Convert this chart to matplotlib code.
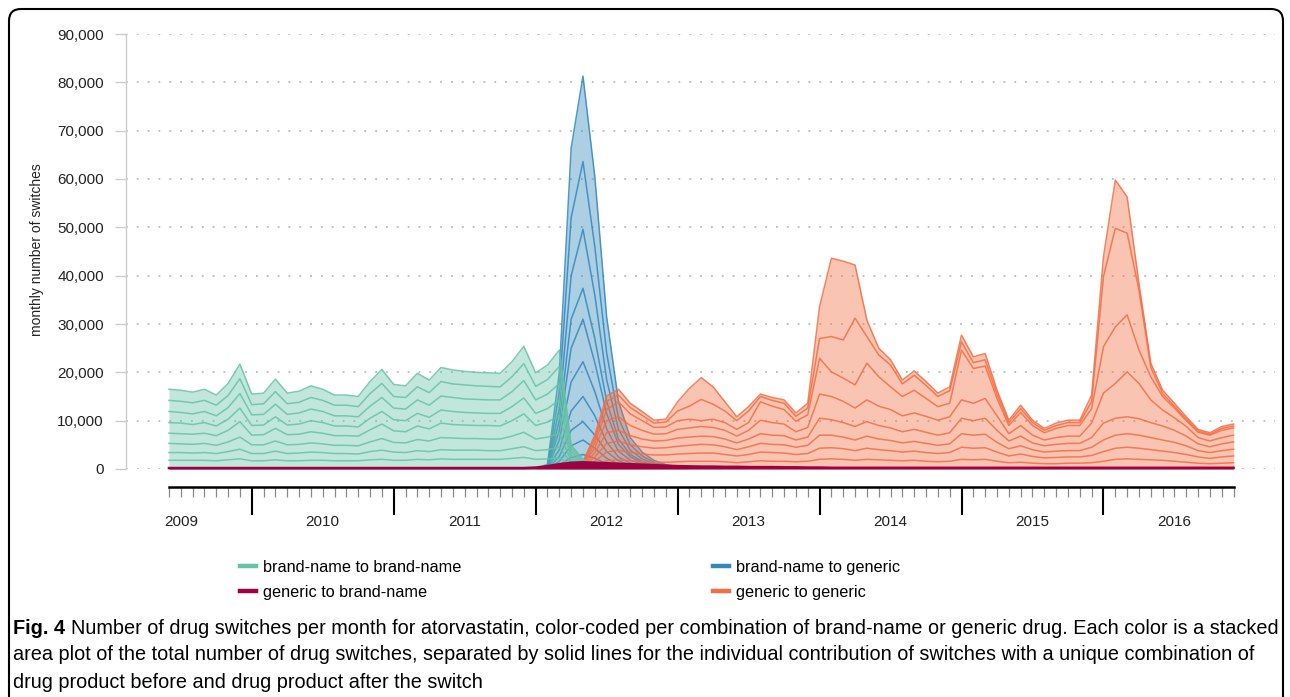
import matplotlib
matplotlib.use('Agg')
import matplotlib.pyplot as plt
import matplotlib.patches as mpatches
import matplotlib.transforms as mtransforms
from matplotlib.lines import Line2D
from matplotlib.ticker import FixedLocator, FuncFormatter
import numpy as np
import pandas as pd

plt.rcParams['font.family'] = ['Liberation Sans', 'DejaVu Sans']

# time axis: Jun 2009 .. Dec 2016, year labels
axis_start, axis_end = '2009-06', '2016-12'
years = [2009, 2010, 2011, 2012, 2013, 2014, 2015, 2016]

# all values in thousands of switches; each group is a list of boundary lines (top line first)
# brand-name to brand-name, from Jun 2009
bb_start = '2009-06'
bb_lines = [
    [16.5, 16.3, 15.9, 16.5, 15.3, 17.7, 21.7, 15.5, 15.7, 18.6, 15.7, 16.1, 17.2, 16.5, 15.3, 15.3, 15.0, 18.1, 20.6, 17.5,
     17.2, 19.8, 18.4, 21.0, 20.5, 20.2, 20.0, 19.9, 19.8, 22.2, 25.4, 19.9, 21.5, 24.6, 5.0, 2.0, 0.8, 0],
    [14.2, 14.0, 13.7, 14.2, 13.2, 15.2, 18.7, 13.3, 13.5, 16.0, 13.5, 13.8, 14.8, 14.2, 13.2, 13.2, 12.9, 15.6, 17.7, 15.0,
     14.8, 17.0, 15.8, 18.1, 17.6, 17.4, 17.2, 17.1, 17.0, 19.1, 21.8, 17.1, 18.5, 21.2, 4.3, 1.7, 0.7, 0],
    [11.9, 11.7, 11.4, 11.9, 11.0, 12.7, 15.6, 11.2, 11.3, 13.4, 11.3, 11.6, 12.4, 11.9, 11.0, 11.0, 10.8, 13.0, 14.8, 12.6,
     12.4, 14.3, 13.2, 15.1, 14.8, 14.5, 14.4, 14.3, 14.3, 16.0, 18.3, 14.3, 15.5, 17.7, 3.6, 1.4, 0.6, 0],
    [9.6, 9.5, 9.2, 9.6, 8.9, 10.3, 12.6, 9.0, 9.1, 10.8, 9.1, 9.3, 10.0, 9.6, 8.9, 8.9, 8.7, 10.5, 11.9, 10.2,
     10.0, 11.5, 10.7, 12.2, 11.9, 11.7, 11.6, 11.5, 11.5, 12.9, 14.7, 11.5, 12.5, 14.3, 2.9, 1.2, 0.5, 0],
    [7.4, 7.3, 7.2, 7.4, 6.9, 8.0, 9.8, 7.0, 7.1, 8.4, 7.1, 7.2, 7.7, 7.4, 6.9, 6.9, 6.8, 8.1, 9.3, 7.9,
     7.7, 8.9, 8.3, 9.5, 9.2, 9.1, 9.0, 9.0, 8.9, 10.0, 11.4, 9.0, 9.7, 11.1, 2.3, 0.9, 0.4, 0],
    [5.3, 5.2, 5.1, 5.3, 4.9, 5.6, 6.6, 5.0, 5.0, 5.8, 5.0, 5.1, 5.4, 5.2, 4.9, 4.9, 4.8, 5.6, 6.3, 5.5,
     5.4, 6.1, 5.8, 6.5, 6.4, 6.3, 6.3, 6.2, 6.2, 6.8, 7.6, 6.2, 6.6, 7.4, 1.7, 0.7, 0.3, 0],
    [3.4, 3.4, 3.3, 3.4, 3.2, 3.6, 4.1, 3.2, 3.2, 3.7, 3.2, 3.3, 3.5, 3.4, 3.2, 3.2, 3.1, 3.6, 3.9, 3.5,
     3.4, 3.8, 3.6, 4.0, 3.9, 3.9, 3.9, 3.8, 3.8, 4.2, 4.6, 3.8, 4.0, 4.5, 1.2, 0.5, 0.2, 0],
    [1.8, 1.8, 1.8, 1.8, 1.7, 1.9, 2.1, 1.7, 1.7, 1.9, 1.7, 1.7, 1.8, 1.8, 1.7, 1.7, 1.7, 1.9, 2.0, 1.8,
     1.8, 2.0, 1.9, 2.1, 2.0, 2.0, 2.0, 2.0, 2.0, 2.2, 2.4, 2.0, 2.1, 2.3, 0.7, 0.3, 0.1, 0],
]

# brand-name to generic, from Jan 2012
bg_start = '2012-01'
bg_lines = [
    [0, 1.0, 20, 66.4, 81.3, 60.5, 31.5, 14, 6.5, 3.5, 1.8, 0.9, 0.4, 0],
    [0, 0.8, 16, 52, 63.6, 46, 24, 10.5, 5, 2.7, 1.4, 0.7, 0.3, 0],
    [0, 0.6, 12.5, 40, 49.6, 36, 18.5, 8.2, 3.9, 2.1, 1.1, 0.5, 0.2, 0],
    [0, 0.5, 10, 31, 37.4, 27, 14, 6.2, 3, 1.6, 0.8, 0.4, 0.2, 0],
    [0, 0.4, 8, 25, 31, 22, 11.5, 5.1, 2.5, 1.3, 0.7, 0.3, 0.1, 0],
    [0, 0.3, 6, 18, 22.2, 16, 8.3, 3.7, 1.8, 1.0, 0.5, 0.2, 0.1, 0],
    [0, 0.2, 4, 12, 15, 11, 5.6, 2.5, 1.2, 0.7, 0.3, 0.2, 0.1, 0],
    [0, 0.1, 2.6, 8, 9.8, 7, 3.6, 1.7, 0.8, 0.4, 0.2, 0.1, 0, 0],
    [0, 0.1, 1.6, 4.8, 6, 4.3, 2.2, 1.0, 0.5, 0.3, 0.1, 0.1, 0, 0],
    [0, 0, 0.8, 2.4, 3, 2.2, 1.1, 0.5, 0.3, 0.1, 0.1, 0, 0, 0],
]

# generic to generic, from Mar 2012
gg_start = '2012-03'
gg_lines = [
    [0, 0.5, 1.5, 7, 15.1, 16.5, 13.6, 11.9, 10.1, 10.3, 13.9, 16.7, 18.9, 17.0, 13.9, 10.8, 12.9, 15.5, 14.8, 14.3, 11.6, 13.6,
     33.6, 43.6, 43.0, 42.2, 30.8, 25.0, 22.6, 18.4, 20.3, 18.1, 15.7, 17.0,
     27.7, 23.2, 23.9, 16.3, 10.1, 13.2, 10.1, 8.4, 9.5, 10.1, 10.1, 15.3,
     43.9, 59.8, 56.3, 38.4, 21.9, 16.3, 13.6, 10.8, 8.2, 7.5, 8.8, 9.3],
    [0, 0.4, 1.3, 6.3, 14.0, 15.3, 12.7, 11.1, 9.5, 9.7, 12.0, 13.0, 14.4, 13.4, 12.0, 10.0, 12.0, 15.0, 14.2, 13.6, 10.9, 12.6,
     27.0, 27.4, 26.7, 31.2, 27.4, 23.6, 21.5, 17.6, 19.4, 17.3, 15.0, 16.2,
     26.3, 22.0, 22.6, 15.5, 9.6, 12.5, 9.6, 8.0, 9.0, 9.6, 9.6, 14.0,
     39.8, 49.8, 48.8, 37.0, 21.0, 15.6, 13.0, 10.3, 7.9, 7.2, 8.4, 8.9],
    [0, 0.3, 1.1, 5.4, 12.3, 13.9, 11.4, 10.0, 8.6, 8.7, 10.0, 10.3, 10.0, 10.3, 9.6, 8.2, 9.6, 13.9, 13.0, 12.3, 9.9, 11.2,
     22.9, 20.1, 18.8, 17.4, 21.9, 19.1, 17.0, 15.0, 16.3, 14.6, 12.9, 13.6,
     24.6, 20.8, 21.3, 14.6, 9.0, 11.7, 9.0, 7.5, 8.4, 9.0, 9.0, 12.5,
     25.3, 29.4, 31.9, 24.6, 19.1, 15.0, 12.6, 10.0, 7.6, 7.0, 8.0, 8.5],
    [0, 0.25, 0.9, 4.4, 10.0, 10.8, 9.0, 8.0, 7.2, 7.3, 8.2, 8.5, 8.8, 8.6, 8.0, 6.8, 8.0, 10.1, 9.6, 9.3, 7.7, 8.6,
     15.5, 15.0, 14.0, 12.6, 14.3, 13.0, 12.3, 11.0, 11.6, 10.9, 10.1, 10.8,
     14.3, 13.6, 14.6, 11.0, 7.3, 9.0, 7.0, 6.0, 6.5, 6.8, 6.8, 9.5,
     15.7, 17.7, 20.1, 17.7, 14.3, 12.2, 10.6, 8.8, 6.5, 5.8, 6.5, 7.0],
    [0, 0.2, 0.7, 3.4, 7.5, 8.0, 6.9, 6.2, 5.8, 5.9, 6.4, 6.6, 6.8, 6.7, 6.2, 5.4, 6.2, 7.3, 7.0, 6.9, 6.0, 6.6,
     10.5, 10.2, 9.6, 8.8, 9.8, 9.0, 8.5, 7.7, 8.2, 7.6, 7.0, 7.5,
     10.5, 10.0, 10.5, 8.0, 5.8, 6.8, 5.4, 4.8, 5.1, 5.3, 5.3, 6.5,
     9.5, 10.5, 10.8, 10.4, 9.6, 8.9, 8.0, 6.8, 5.2, 4.6, 5.2, 5.6],
    [0, 0.15, 0.5, 2.5, 5.3, 5.8, 5.0, 4.6, 4.3, 4.4, 4.7, 4.9, 5.1, 5.0, 4.6, 4.0, 4.6, 5.3, 5.1, 5.0, 4.5, 4.9,
     7.0, 7.0, 6.6, 6.0, 6.8, 6.2, 5.9, 5.4, 5.7, 5.3, 4.9, 5.2,
     7.3, 7.0, 7.2, 5.5, 4.2, 4.8, 4.0, 3.5, 3.7, 3.8, 3.8, 4.5,
     6.0, 7.0, 7.3, 7.0, 6.5, 6.0, 5.5, 4.8, 3.8, 3.4, 3.8, 4.1],
    [0, 0.1, 0.3, 1.6, 3.5, 3.9, 3.4, 3.1, 2.9, 2.9, 3.1, 3.2, 3.3, 3.3, 3.0, 2.7, 3.0, 3.5, 3.4, 3.3, 3.0, 3.2,
     4.3, 4.4, 4.2, 3.8, 4.3, 4.0, 3.8, 3.5, 3.7, 3.4, 3.2, 3.4,
     4.5, 4.3, 4.4, 3.5, 2.7, 3.1, 2.6, 2.3, 2.4, 2.5, 2.5, 2.8,
     3.6, 4.3, 4.5, 4.3, 4.0, 3.7, 3.4, 3.0, 2.5, 2.2, 2.5, 2.7],
    [0, 0.05, 0.15, 0.8, 1.7, 1.9, 1.7, 1.5, 1.4, 1.4, 1.5, 1.6, 1.6, 1.6, 1.5, 1.3, 1.5, 1.7, 1.6, 1.6, 1.5, 1.6,
     2.0, 2.1, 2.0, 1.8, 2.0, 1.9, 1.8, 1.7, 1.8, 1.6, 1.5, 1.6,
     2.0, 1.9, 2.0, 1.6, 1.3, 1.4, 1.2, 1.1, 1.1, 1.2, 1.2, 1.3,
     1.6, 2.0, 2.1, 2.0, 1.9, 1.8, 1.6, 1.4, 1.2, 1.1, 1.2, 1.3],
]

# generic to brand-name, from Jun 2009
gb_start = '2009-06'
gb_vals = [0.2, 0.2, 0.2, 0.2, 0.2, 0.2, 0.2, 0.2, 0.2, 0.2,
           0.2, 0.2, 0.2, 0.2, 0.2, 0.2, 0.2, 0.2, 0.2, 0.2,
           0.2, 0.2, 0.2, 0.2, 0.2, 0.2, 0.2, 0.2, 0.2, 0.2, 0.2,
           0.3, 0.6, 1.0, 1.3, 1.4, 1.3, 1.2, 1.1, 1.0, 0.9, 0.8, 0.7, 0.6,
           0.55, 0.5, 0.5, 0.45, 0.45, 0.4, 0.4, 0.4, 0.35, 0.35, 0.3, 0.3,
           0.25, 0.25, 0.25, 0.25, 0.25, 0.25, 0.25, 0.25, 0.25, 0.25,
           0.25, 0.25, 0.25, 0.25, 0.25, 0.25, 0.25, 0.25, 0.25, 0.25,
           0.25, 0.25, 0.25, 0.25, 0.25, 0.25, 0.25, 0.25, 0.25, 0.25,
           0.25, 0.25, 0.25, 0.25, 0.25]

group_names = ['brand-name to brand-name', 'brand-name to generic',
               'generic to brand-name', 'generic to generic']
group_colors = ['#66c2a5', '#3288bd', '#9e0142', '#f46d43']

cap_bold = 'Fig. 4'
cap_lines = [
    'Number of drug switches per month for atorvastatin, color-coded per combination of brand-name or generic drug. Each color is a stacked',
    'area plot of the total number of drug switches, separated by solid lines for the individual contribution of switches with a unique combination of',
    'drug product before and drug product after the switch',
]


def month_index(start, n):
    p = pd.period_range(start, periods=n, freq='M')
    return np.asarray((p.year - 2009) * 12 + p.month - 1)


W, H = 1290, 697
fig = plt.figure(figsize=(W / 100, H / 100), dpi=100)
ax = fig.add_axes([126 / W, 1 - 469 / H, (1275 - 126) / W, (469 - 34) / H])


def draw_group(start, lines, color, z):
    x = month_index(start, len(lines[0]))
    ax.fill_between(x, 0, np.array(lines[0]) * 1000, color=color, alpha=0.4, lw=0, zorder=z)
    for ln in lines:
        ax.plot(x, np.array(ln) * 1000, color=color, lw=1.1, alpha=0.85, zorder=z + 0.5)


draw_group(bg_start, bg_lines, group_colors[1], 2)
draw_group(gg_start, gg_lines, group_colors[3], 3)
draw_group(bb_start, bb_lines, group_colors[0], 4)

xr = month_index(gb_start, len(gb_vals))
ax.fill_between(xr, 0, np.array(gb_vals) * 1000, color=group_colors[2], lw=0, zorder=6, clip_on=False)
ax.plot(xr, np.array(gb_vals) * 1000, color=group_colors[2], lw=1.8, zorder=6.5, clip_on=False)

# axes
x0 = month_index(axis_start, 1)[0]
n_months = len(pd.period_range(axis_start, axis_end, freq='M'))
x1 = month_index(axis_start, n_months)[-1]
ax.set_xlim(x0 - 3.63, x1 + 3.5)
ax.set_ylim(0, 90000)

ax.yaxis.set_major_locator(FixedLocator(np.arange(0, 90001, 10000)))
ax.yaxis.set_major_formatter(FuncFormatter(lambda v, p: f'{int(v):,}'))
ax.yaxis.grid(True, linestyle=(0, (1, 5)), color='#bbbbbb', lw=1.3)
ax.set_axisbelow(True)
ax.tick_params(axis='y', length=8, width=1, color='#cccccc', labelsize=11, labelcolor='#222222', pad=8)

for s in ['top', 'right']:
    ax.spines[s].set_visible(False)
ax.spines['left'].set_color('#cccccc')
ax.spines['left'].set_linewidth(1)

ax.spines['bottom'].set_position(('outward', 13))
ax.spines['bottom'].set_bounds(x0, x1)
ax.spines['bottom'].set_linewidth(1.8)
ax.xaxis.set_major_locator(FixedLocator(month_index(f'{years[1]}-01', 12 * (len(years) - 2) + 1)[::12]))
ax.xaxis.set_minor_locator(FixedLocator(month_index(axis_start, n_months)))
ax.tick_params(axis='x', which='major', length=20, width=1.5, color='black', labelbottom=False)
ax.tick_params(axis='x', which='minor', length=7.2, width=0.9, color='#888888')

trans = mtransforms.blended_transform_factory(ax.transData, ax.transAxes)
for y in years:
    ax.text(month_index(f'{y}-07', 1)[0], -0.122, str(y), transform=trans,
            ha='center', va='center', fontsize=11, color='#222222')

fig.text(37 / W, 1 - 250 / H, 'monthly number of switches', rotation=90,
         ha='center', va='center', fontsize=10, color='#222222')

# legend in two columns
handles = [Line2D([], [], color=c, lw=3.2) for c in group_colors]
leg_kw = dict(loc='upper left', frameon=False, fontsize=11.7, handlelength=0.98, handletextpad=0.43,
              labelspacing=0.62, borderpad=0, borderaxespad=0)
leg1 = fig.legend([handles[0], handles[2]], [group_names[0], group_names[2]],
                  bbox_to_anchor=(240 / W, 1 - 560 / H), **leg_kw)
leg2 = fig.legend([handles[1], handles[3]], [group_names[1], group_names[3]],
                  bbox_to_anchor=(713 / W, 1 - 560 / H), **leg_kw)

# caption
renderer = fig.canvas.get_renderer()
cap_y = [628, 655, 682]
fs = 13
t_bold = fig.text(13 / W, 1 - cap_y[0] / H, cap_bold, fontweight='bold', fontsize=fs, va='center')
t_lines = [fig.text(13 / W, 1 - cy / H, s, fontsize=fs, va='center') for s, cy in zip(cap_lines, cap_y)]
bw = t_bold.get_window_extent(renderer).width
lw0 = t_lines[0].get_window_extent(renderer).width
space = 0.28 * fs * 100 / 72
scale = 1262 / (bw + space + lw0)
fs = fs * scale
t_bold.set_fontsize(fs)
for t in t_lines:
    t.set_fontsize(fs)
bw = t_bold.get_window_extent(renderer).width
t_lines[0].set_x((13 + bw + 0.28 * fs * 100 / 72) / W)

# rounded frame around the figure
frame = mpatches.FancyBboxPatch((9, -30), 1274, 688 + 30, boxstyle='round,pad=0,rounding_size=12',
                                transform=mtransforms.IdentityTransform(), fill=False,
                                edgecolor='black', lw=1.5)
fig.add_artist(frame)

fig.savefig('out.png', dpi=100)
